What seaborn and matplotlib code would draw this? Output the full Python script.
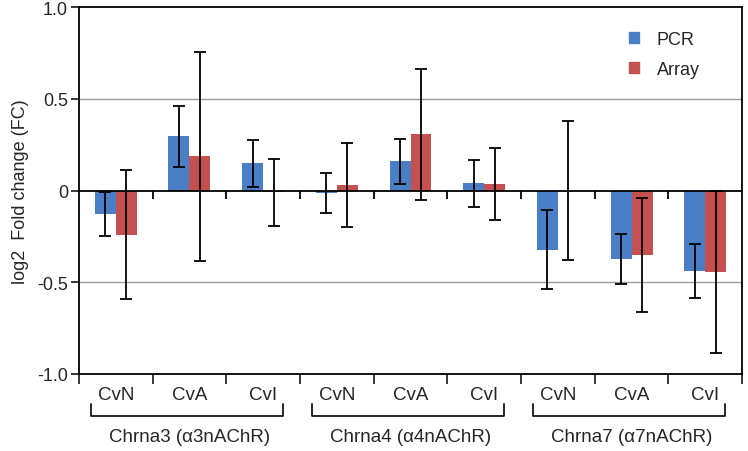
import numpy as np
import pandas as pd
import seaborn as sns
import matplotlib.pyplot as plt
from matplotlib.patches import Patch

# data
genes = ['Chrna3 (\u03b13nAChR)', 'Chrna4 (\u03b14nAChR)', 'Chrna7 (\u03b17nAChR)']
comps = ['CvN', 'CvA', 'CvI']
pcr_mean = [-0.13, 0.295, 0.148, -0.014, 0.16, 0.04, -0.323, -0.373, -0.437]
pcr_err = [0.12, 0.168, 0.128, 0.107, 0.123, 0.127, 0.215, 0.137, 0.147]
arr_mean = [-0.24, 0.186, -0.01, 0.031, 0.306, 0.038, 0.0, -0.352, -0.445]
arr_err = [0.35, 0.57, 0.182, 0.227, 0.355, 0.196, 0.379, 0.312, 0.44]

blue = '#4A7EC6'
red = '#C4504F'

sns.set_style('white')
plt.rcParams['font.family'] = ['Liberation Sans', 'DejaVu Sans']

keys = [g.split()[0] + ' ' + c for g in genes for c in comps]
df = pd.DataFrame({
    'key': keys * 2,
    'method': ['PCR'] * 9 + ['Array'] * 9,
    'val': pcr_mean + arr_mean,
})

fig = plt.figure(figsize=(7.48, 4.52), dpi=100)
ax = fig.add_axes([0.1056, 0.1704, 0.8864, 0.8116])

sns.barplot(data=df, x='key', y='val', hue='method', order=keys,
            hue_order=['PCR', 'Array'], palette=[blue, red], width=0.57,
            errorbar=None, linewidth=0, saturation=1, legend=False, ax=ax)

# error bars on bar centres
for cont, means, errs in zip(ax.containers, [pcr_mean, arr_mean], [pcr_err, arr_err]):
    xs = [b.get_x() + b.get_width() / 2 for b in cont]
    ax.errorbar(xs, means, yerr=errs, fmt='none', ecolor='black',
                elinewidth=1.3, capsize=4, capthick=1.3, zorder=5)

ax.set_ylim(-1.0, 1.0)
ax.set_xlim(-0.5, 8.5)
ax.set_yticks([-1.0, -0.5, 0, 0.5, 1.0])
ax.set_yticklabels(['-1.0', '-0.5', '0', '0.5', '1.0'], fontsize=13)
for y in [-0.5, 0.5]:
    ax.axhline(y, color='#999999', lw=1.0, zorder=0)
ax.axhline(0, color='black', lw=1.3, zorder=4)
# little ticks on the zero line
bounds = np.arange(0.5, 8.5, 1.0)
ax.vlines(bounds, -0.045, 0, color='black', lw=1.3, zorder=4)

ax.set_xticks(np.arange(-0.5, 9.0, 1.0))
ax.set_xticklabels([])
ax.set_xticks(range(9), minor=True)
ax.set_xticklabels(comps * 3, minor=True, fontsize=13.5)
ax.tick_params(axis='x', which='major', direction='out', length=7, width=1.3, bottom=True)
ax.tick_params(axis='x', which='minor', length=0, pad=9)
ax.tick_params(axis='y', direction='out', length=6, width=1.3, left=True, pad=2)
ax.set_xlabel('')
ax.set_ylabel('log2  Fold change (FC)', fontsize=13, labelpad=6)

for s in ax.spines.values():
    s.set_color('black')
    s.set_linewidth(1.3)

# brackets and gene names under the axis
for i, g in enumerate(genes):
    x0 = i * 3 - 0.337
    x1 = i * 3 + 2.27
    ax.plot([x0, x0, x1, x1], [-1.163, -1.227, -1.227, -1.163], color='black',
            lw=1.2, clip_on=False)
    ax.text(i * 3 + 1, -1.34, g, ha='center', va='center', fontsize=13.5)

handles = [Patch(color=blue, label='PCR'), Patch(color=red, label='Array')]
ax.legend(handles=handles, frameon=False, loc='upper left',
          bbox_to_anchor=(0.805, 0.98), fontsize=13, handlelength=0.55,
          handleheight=0.55, handletextpad=1.0, labelspacing=0.75)

fig.savefig('out.png', dpi=100)
